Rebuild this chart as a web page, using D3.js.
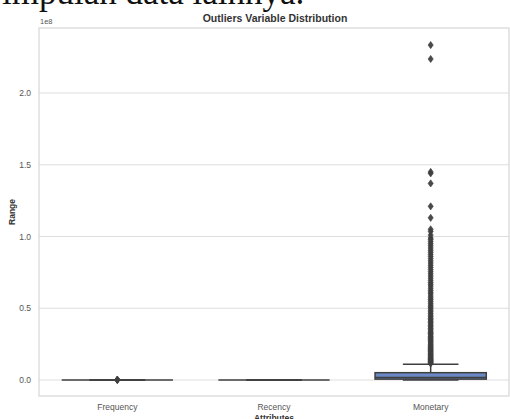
<!DOCTYPE html>
<html>
<head>
<meta charset="utf-8">
<script src="https://cdn.jsdelivr.net/npm/d3@7"></script>
<style>
  html, body { margin: 0; padding: 0; background: #fff; }
  svg { display: block; }
</style>
</head>
<body>
<svg id="chart" width="510" height="419"></svg>
<script>
// ---- data (values in units of 1e8) ----
const categories = ["Frequency", "Recency", "Monetary"];
const boxMin    = [0, 0, 0];
const boxQ1     = [0, 0, 0.006];
const boxMedian = [0, 0, 0.018];
const boxQ3     = [0, 0, 0.051];
const boxMax    = [0, 0, 0.11];
const frequencyOutliers = [0.0008, 0.0012, 0.0018, 0.0025];
const recencyOutliers = [];
const monetaryOutliers = [
  0.115, 0.12, 0.125, 0.13, 0.135, 0.14, 0.145, 0.15, 0.156, 0.162, 0.168, 0.175,
  0.18, 0.187, 0.194, 0.2, 0.207, 0.214, 0.22, 0.228, 0.235, 0.243, 0.25, 0.258,
  0.265, 0.273, 0.28, 0.29, 0.298, 0.305, 0.315, 0.323, 0.33, 0.34, 0.35, 0.36,
  0.37, 0.38, 0.39, 0.4, 0.41, 0.42, 0.43, 0.44, 0.452, 0.463, 0.475, 0.487,
  0.5, 0.51, 0.522, 0.535, 0.548, 0.56, 0.572, 0.585, 0.6, 0.612, 0.625, 0.64,
  0.655, 0.668, 0.68, 0.695, 0.71, 0.725, 0.74, 0.755, 0.77, 0.785, 0.8, 0.815,
  0.83, 0.845, 0.86, 0.875, 0.89, 0.905, 0.92, 0.935, 0.95, 0.965, 0.98, 0.99,
  1.01, 1.035, 1.05, 1.13, 1.21, 1.37, 1.44, 1.45, 2.237, 2.334
];
const outliers = [frequencyOutliers, recencyOutliers, monetaryOutliers];
const yTicks = [0, 0.5, 1.0, 1.5, 2.0];
const yTickLabels = ["0.0", "0.5", "1.0", "1.5", "2.0"];
const titleText = "Outliers Variable Distribution";
const xLabel = "Attributes";
const yLabel = "Range";
const offsetText = "1e8";
const pageText = "impulan data lainnya.";

(function () {
// ---- layout ----
const svg = d3.select("#chart");
const mLeft = 39, mRight = 509, mTop = 28, mBottom = 396;

const x = d3.scaleBand().domain(categories).range([mLeft, mRight]).paddingInner(0).paddingOuter(0);
const y = d3.scaleLinear().domain([-0.1115, 2.453]).range([mBottom, mTop]);

// page text above the chart (cut off by the crop, as in the reference)
svg.append("text")
  .attr("x", 2).attr("y", 4)
  .attr("font-family", "Liberation Serif, serif")
  .attr("font-size", 35)
  .attr("fill", "#111")
  .text(pageText);

// grid lines
svg.append("g").selectAll("line").data(yTicks).join("line")
  .attr("x1", mLeft).attr("x2", mRight)
  .attr("y1", d => y(d)).attr("y2", d => y(d))
  .attr("stroke", "#dedede").attr("stroke-width", 1);

// frame
svg.append("rect")
  .attr("x", mLeft).attr("y", mTop)
  .attr("width", mRight - mLeft).attr("height", mBottom - mTop)
  .attr("fill", "none").attr("stroke", "#d6d6d6").attr("stroke-width", 1.2);

// y axis labels
const yAxis = d3.axisLeft(y).tickValues(yTicks).tickFormat((d, i) => yTickLabels[i]).tickSize(0).tickPadding(8);
const gy = svg.append("g").attr("transform", `translate(${mLeft},0)`).call(yAxis);
gy.select(".domain").remove();
gy.selectAll("text").attr("font-family", "Liberation Sans, Arial, sans-serif").attr("font-size", 8.5).attr("fill", "#555");

// x axis labels
const xAxis = d3.axisBottom(x).tickSize(0).tickPadding(8);
const gx = svg.append("g").attr("transform", `translate(0,${mBottom})`).call(xAxis);
gx.select(".domain").remove();
gx.selectAll("text").attr("font-family", "Liberation Sans, Arial, sans-serif").attr("font-size", 8.5).attr("fill", "#555");

// boxes
const boxW = x.bandwidth() * 0.71;
const capW = boxW * 0.5;
const edge = "#3f3f3f";
const boxes = svg.append("g");
categories.forEach((c, i) => {
  const cx = x(c) + x.bandwidth() / 2;
  const g = boxes.append("g");
  g.append("line").attr("x1", cx).attr("x2", cx).attr("y1", y(boxQ3[i])).attr("y2", y(boxMax[i]))
    .attr("stroke", edge).attr("stroke-width", 1.5);
  g.append("line").attr("x1", cx).attr("x2", cx).attr("y1", y(boxQ1[i])).attr("y2", y(boxMin[i]))
    .attr("stroke", edge).attr("stroke-width", 1.5);
  g.append("line").attr("x1", cx - capW / 2).attr("x2", cx + capW / 2).attr("y1", y(boxMax[i])).attr("y2", y(boxMax[i]))
    .attr("stroke", edge).attr("stroke-width", 1.5);
  g.append("line").attr("x1", cx - capW / 2).attr("x2", cx + capW / 2).attr("y1", y(boxMin[i])).attr("y2", y(boxMin[i]))
    .attr("stroke", edge).attr("stroke-width", 1.5);
  g.append("rect")
    .attr("x", cx - boxW / 2).attr("width", boxW)
    .attr("y", y(boxQ3[i])).attr("height", Math.max(0, y(boxQ1[i]) - y(boxQ3[i])))
    .attr("fill", "#6b88c6").attr("stroke", edge).attr("stroke-width", 1.5);
  g.append("line").attr("x1", cx - boxW / 2).attr("x2", cx + boxW / 2)
    .attr("y1", y(boxMedian[i])).attr("y2", y(boxMedian[i]))
    .attr("stroke", edge).attr("stroke-width", 1.5);
  g.selectAll("path").data(outliers[i]).join("path")
    .attr("transform", d => `translate(${cx},${y(d)})`)
    .attr("d", "M0,-3.6L2.6,0L0,3.6L-2.6,0Z")
    .attr("fill", "#3f3f3f").attr("fill-opacity", 0.95)
    .attr("stroke", "#3f3f3f").attr("stroke-width", 0.6);
});

// title
svg.append("text")
  .attr("x", 275).attr("y", 22)
  .attr("text-anchor", "middle")
  .attr("font-family", "Liberation Sans, Arial, sans-serif")
  .attr("font-weight", "bold").attr("font-size", 10.5).attr("fill", "#333")
  .text(titleText);

// offset text
svg.append("text")
  .attr("x", mLeft + 1).attr("y", 24)
  .attr("font-family", "Liberation Sans, Arial, sans-serif")
  .attr("font-size", 7.5).attr("fill", "#555")
  .text(offsetText);

// y label
svg.append("text")
  .attr("transform", `translate(15,${(mTop + mBottom) / 2}) rotate(-90)`)
  .attr("text-anchor", "middle")
  .attr("font-family", "Liberation Sans, Arial, sans-serif")
  .attr("font-weight", "bold").attr("font-size", 8.5).attr("fill", "#333")
  .text(yLabel);

// x label
svg.append("text")
  .attr("x", x("Recency") + x.bandwidth() / 2).attr("y", 421)
  .attr("text-anchor", "middle")
  .attr("font-family", "Liberation Sans, Arial, sans-serif")
  .attr("font-weight", "bold").attr("font-size", 8.5).attr("fill", "#333")
  .text(xLabel);
})();
</script>
</body>
</html>
